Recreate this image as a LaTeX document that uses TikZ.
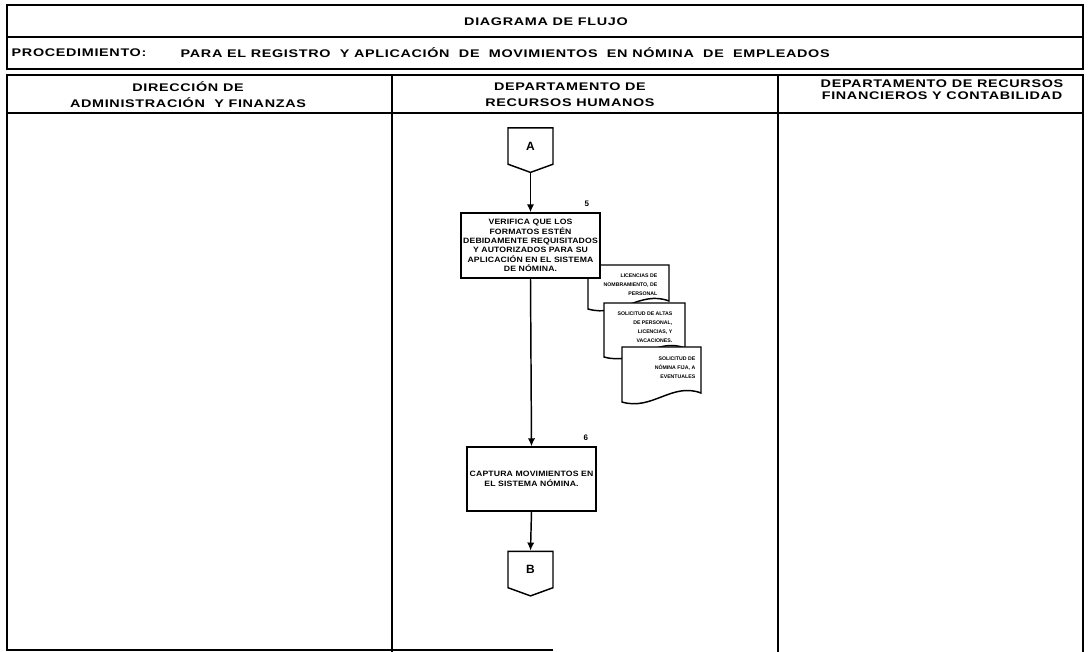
\documentclass[tikz,border=0pt]{standalone}
\usepackage{fontspec}
\setmainfont{Liberation Sans}
\newfontfamily\hdrfont[FakeStretch=1.3,LetterSpace=6]{Liberation Sans}
\newfontfamily\boxfont[FakeStretch=1.12,LetterSpace=2]{Liberation Sans}
\usetikzlibrary{shapes.symbols,positioning,arrows.meta}

\begin{document}
\begin{tikzpicture}[x=0.75pt,y=-0.75pt,line width=1.1pt,>={Latex[length=6pt,width=5.5pt]},
  titulo/.style={font=\hdrfont\bfseries\fontsize{8.3}{12}\selectfont,inner sep=0pt},
  proceso/.style={draw,fill=white,align=center,inner sep=1pt,font=\boxfont\bfseries\fontsize{5.8}{7}\selectfont},
  conector/.style={draw,fill=white,signal,signal to=south,signal pointer angle=140,minimum width=33.75pt,minimum height=28.5pt,inner sep=0pt,font=\bfseries\fontsize{9}{9}\selectfont},
  doctexto/.style={align=right,inner sep=0pt,font=\bfseries\fontsize{3.9}{6.8}\selectfont},
  num/.style={font=\bfseries\fontsize{6}{6}\selectfont,inner sep=0pt}]
\useasboundingbox (0,0) rectangle (1089,652);
% encabezado
\draw (7,5) rectangle (1083,69);
\draw (7,37) -- (1083,37);
\node[titulo] (titulo) at (546,22) {DIAGRAMA DE FLUJO};
\node[titulo,anchor=west] (proc) at (11,53) {PROCEDIMIENTO:};
\node[titulo,anchor=west] (nombre) at (180,53) {PARA EL REGISTRO \ Y APLICACIÓN \ DE \ MOVIMIENTOS \ EN NÓMINA \ DE \ EMPLEADOS};
% carriles
\draw (7,75) rectangle (1083,113);
\draw (392,75) -- (392,652);
\draw (778,75) -- (778,652);
\draw (7,113) -- (7,650) -- (553,650);
\draw (1083,113) -- (1083,652);
\node[titulo,align=center] (daf) at (188,95) {DIRECCIÓN DE\\ADMINISTRACIÓN \ Y FINANZAS};
\node[titulo,align=center] (drh) at (570,95) {DEPARTAMENTO DE\\RECURSOS HUMANOS};
\node[titulo,align=center,font=\hdrfont\bfseries\fontsize{8.3}{9}\selectfont] (drf) at (942,90) {DEPARTAMENTO DE RECURSOS\\FINANCIEROS Y CONTABILIDAD};
% documentos
\draw[fill=white] (588,265) -- (669,265) -- (669,301) .. controls (640,290) and (620,318) .. (588,309) -- cycle;
\node[doctexto,anchor=north east] (doc1) at (658,273) {LICENCIAS DE\\NOMBRAMIENTO, DE\\PERSONAL};
\draw[fill=white] (604,303) -- (685,303) -- (685,348) .. controls (656,337) and (636,366) .. (604,357) -- cycle;
\node[doctexto,anchor=north east] (doc2) at (673,311) {SOLICITUD DE ALTAS\\DE PERSONAL,\\LICENCIAS, Y\\VACACIONES.};
\draw[fill=white] (622,347) -- (701,347) -- (701,393) .. controls (672,382) and (652,411) .. (622,402) -- cycle;
\node[doctexto,anchor=north east] (doc3) at (696,356) {SOLICITUD DE\\NÓMINA FIJA, A\\EVENTUALES};
% flujo
\node[conector] (A) at (530.5,146) {A};
\node[proceso,minimum width=104pt,minimum height=48.75pt,text width=102pt] (p5) at (530.5,245.5) {VERIFICA QUE LOS\\FORMATOS ESTÉN\\DEBIDAMENTE REQUISITADOS\\Y AUTORIZADOS PARA SU\\APLICACIÓN EN EL SISTEMA\\DE NÓMINA.};
\node[num,anchor=south east] (n5) at ([xshift=-8pt,yshift=4pt]p5.north east) {5};
\node[proceso,minimum width=96.75pt,minimum height=48pt,text width=95pt] (p6) at (531.5,479) {CAPTURA MOVIMIENTOS EN\\EL SISTEMA NÓMINA.};
\node[num,anchor=south east] (n6) at ([xshift=-6pt,yshift=4pt]p6.north east) {6};
\node[conector] (B) at (530.5,569.5) {B};
\draw[->] (A.south) -- (p5.north);
\draw[->] (p5.south) -- (p6.north);
\draw[->] (p6.south) -- (B.north);
\end{tikzpicture}
\end{document}
